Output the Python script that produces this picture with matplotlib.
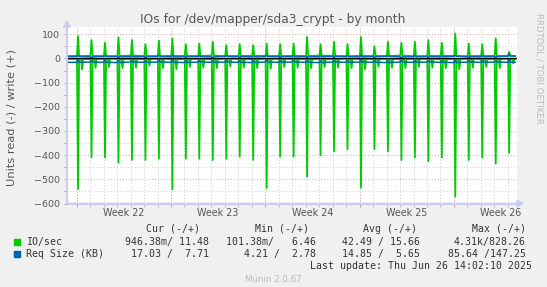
import numpy as np
import matplotlib
matplotlib.use("Agg")
import matplotlib.pyplot as plt
import matplotlib.transforms as mtransforms

# ---- data (x axis in days from the left edge of the graph) ----
x_span = 33.4
week_start = [0.72, 7.72, 14.72, 21.72, 28.72]
week_labels = ["Week 22", "Week 23", "Week 24", "Week 25", "Week 26"]
data_end = 33.26
first_spike = 0.82  # one nightly burst per day

# IO/sec, nightly peaks (read drawn negative)
io_write_peak = [92, 76, 65, 87, 76, 59, 74, 83, 59, 62, 69, 55, 59, 55, 62, 59, 62,
                 89, 59, 69, 59, 89, 51, 69, 65, 69, 76, 65, 103, 62, 59, 83, 27]
io_read_peak = [540, 409, 410, 431, 420, 420, 415, 541, 415, 415, 420, 415, 406, 420,
                536, 406, 406, 489, 400, 385, 375, 535, 375, 385, 420, 410, 425, 410,
                572, 420, 410, 435, 390]
# small read burst a few hours after the peak
io_read_dip = [45, 38, 35, 40, 38, 30, 40, 45, 35, 38, 40, 33, 38, 40, 42, 35, 38,
               40, 35, 38, 40, 45, 35, 38, 40, 35, 38, 40, 45, 38, 35, 40, 20]
# quiet level between bursts
io_write_base = [10, 11, 9, 10, 12, 10, 9, 11, 10, 10, 12, 9, 10, 11, 10, 9, 11,
                 10, 12, 10, 9, 11, 10, 10, 12, 9, 10, 11, 10, 9, 11, 10, 10]
io_read_base = [2, 3, 1, 2, 3, 2, 1, 3, 2, 2, 3, 1, 2, 3, 2, 1, 3,
                2, 3, 2, 1, 3, 2, 2, 3, 1, 2, 3, 2, 1, 3, 2, 2]

# Req Size (KB)
req_write_day = [8, 7, 9, 8, 7, 8, 9, 7, 8, 8, 7, 9, 8, 7, 8, 9, 7,
                 8, 7, 9, 8, 7, 8, 9, 7, 8, 8, 7, 9, 8, 7, 8, 10]
req_write_spike = [13, 2, 12, 3, 11, 2, 12, 14, 3, 11, 2, 12, 3, 11, 13, 2, 12,
                   3, 11, 2, 12, 14, 3, 11, 2, 12, 3, 11, 13, 2, 12, 3, 20]
req_read_day = [16, 15, 16, 17, 15, 16, 15, 16, 17, 15, 16, 15, 16, 17, 15, 16, 15,
                16, 17, 15, 16, 15, 16, 17, 15, 16, 15, 16, 17, 15, 16, 15, 16]
req_read_spike = [6, 9, 7, 10, 8, 9, 7, 6, 9, 8, 10, 7, 9, 8, 6, 9, 7,
                  8, 10, 7, 9, 6, 8, 10, 7, 9, 8, 10, 6, 9, 7, 8, 4]

legend_rows = [
    ("IO/sec", "#00CC00", ["946.38m/ 11.48", "101.38m/   6.46", "42.49 / 15.66", "4.31k/828.26"]),
    ("Req Size (KB)", "#0066B3", ["17.03 /  7.71", "4.21 /  2.78", "14.85 /  5.65", "85.64 /147.25"]),
]
legend_heads = ["Cur (-/+)", "Min (-/+)", "Avg (-/+)", "Max (-/+)"]


def nightly_series(base, peak, dip=None, neg=False):
    t, v = [0.0], [base[0]]
    for i in range(len(peak)):
        s = first_spike + i
        t += [s - 0.08, s, s + 0.08]
        v += [base[i], peak[i], base[i]]
        if dip is not None:
            t += [s + 0.22, s + 0.3, s + 0.38]
            v += [base[i], dip[i], base[i]]
    t.append(data_end)
    v.append(base[-1])
    v = np.array(v, dtype=float)
    return np.array(t), (-v if neg else v)


W, H = 547, 287
fig = plt.figure(figsize=(W / 100, H / 100), dpi=100, facecolor="#F0F0F0")
ax = fig.add_axes([67 / W, 1 - 203.5 / H, 450 / W, 176.5 / H])
ax.set_facecolor("white")

green, blue = "#00CC00", "#0066B3"
t, v = nightly_series(io_write_base, io_write_peak)
ax.plot(t, v, color=green, lw=1.3, zorder=3)
t, v = nightly_series(io_read_base, io_read_peak, io_read_dip, neg=True)
ax.plot(t, v, color=green, lw=1.3, zorder=3)
t, v = nightly_series(req_write_day, req_write_spike)
ax.plot(t, v, color=blue, lw=1.1, zorder=4)
t, v = nightly_series(req_read_day, req_read_spike, neg=True)
ax.plot(t, v, color=blue, lw=1.1, zorder=4)
ax.axhline(0, color="black", lw=1.0, zorder=5)

# grid: red dotted major, grey dotted minor
days = np.arange(week_start[0], x_span, 1.0)
dots = (0, (1, 2))
for y in range(-550, 130, 100):
    ax.axhline(y, color="#CCCCCC", lw=0.7, ls=dots, zorder=1)
for y in range(-500, 130, 100):
    ax.axhline(y, color="#E8A0A0", lw=0.7, ls=dots, zorder=1)
for d in days:
    ax.axvline(d, color="#CCCCCC", lw=0.7, ls=dots, zorder=1)
for w in week_start:
    ax.axvline(w, color="#E8A0A0", lw=0.7, ls=dots, zorder=1)

for s in ["top", "right"]:
    ax.spines[s].set_visible(False)
for s in ["left", "bottom"]:
    ax.spines[s].set_color("#CCCCEE")
    ax.spines[s].set_linewidth(0.8)

ax.set_yticks(range(-600, 101, 100))
ax.set_yticks(range(-550, 130, 100), minor=True)
ax.tick_params(axis="y", which="both", colors="#999999", length=2, width=0.6,
               labelcolor="#555555", labelsize=6.8, pad=3)
ax.set_xticks(week_start)
ax.set_xticklabels([])
ax.set_xticks(days, minor=True)
ax.tick_params(axis="x", which="major", colors="#E08080", length=2, width=0.6)
ax.tick_params(axis="x", which="minor", colors="#AAAAAA", length=2, width=0.5)

ax.set_xlim(0, x_span)
ax.set_ylim(-600, 130)

tr = mtransforms.blended_transform_factory(ax.transData, ax.transAxes)
for w, lab in zip(week_start, week_labels):
    ax.text(w + 3.5, -0.053, lab, transform=tr, ha="center", va="center",
            fontsize=6.9, color="#555555")

# axis arrows
fig.patches.append(matplotlib.patches.FancyArrow(
    67 / W, 1 - 203.5 / H, 0, (203.5 - 21) / H, width=0, head_width=7 / W,
    head_length=6 / H, length_includes_head=True, color="#CCCCEE",
    transform=fig.transFigure))
fig.patches.append(matplotlib.patches.FancyArrow(
    67 / W, 1 - 203.5 / H, (523 - 67) / W, 0, width=0, head_width=7 / H,
    head_length=6 / W, length_includes_head=True, color="#CCCCEE",
    transform=fig.transFigure))


def px(x, y):
    return x / W, 1 - y / H


fig.text(*px(273, 20), "IOs for /dev/mapper/sda3_crypt - by month", ha="center",
         va="center", fontsize=8.8, color="#555555")
fig.text(*px(12, 118), "Units read (-) / write (+)", rotation=90, ha="center",
         va="center", fontsize=8.2, color="#555555")
fig.text(*px(539, 68), "RRDTOOL / TOBI OETIKER", rotation=270, ha="center",
         va="center", fontsize=6.2, color="#BBBBBB")

mono = "DejaVu Sans Mono"
head_x = [200.5, 309, 417, 526]
val_x = [209, 315.7, 420, 526]
for x, h in zip(head_x, legend_heads):
    fig.text(*px(x, 228.6), h, ha="right", va="center", family=mono,
             fontsize=7.1, color="#333333")
for row, (name, col, vals) in enumerate(legend_rows):
    y = 241.9 + row * 12.5
    fig.patches.append(matplotlib.patches.Rectangle(
        px(14, y + 3), 6 / W, 6 / H, color=col, transform=fig.transFigure))
    fig.text(*px(26, y), name, ha="left", va="center", family=mono,
             fontsize=7.1, color="#333333")
    for x, s in zip(val_x, vals):
        fig.text(*px(x, y), s, ha="right", va="center", family=mono,
                 fontsize=7.1, color="#333333")
fig.text(*px(532, 266.3), "Last update: Thu Jun 26 14:02:10 2025", ha="right",
         va="center", family=mono, fontsize=7.1, color="#333333")
fig.text(*px(273.5, 279.5), "Munin 2.0.67", ha="center", va="center",
         fontsize=6.3, color="#BBBBBB")

fig.savefig("out.png", dpi=100, facecolor=fig.get_facecolor())
